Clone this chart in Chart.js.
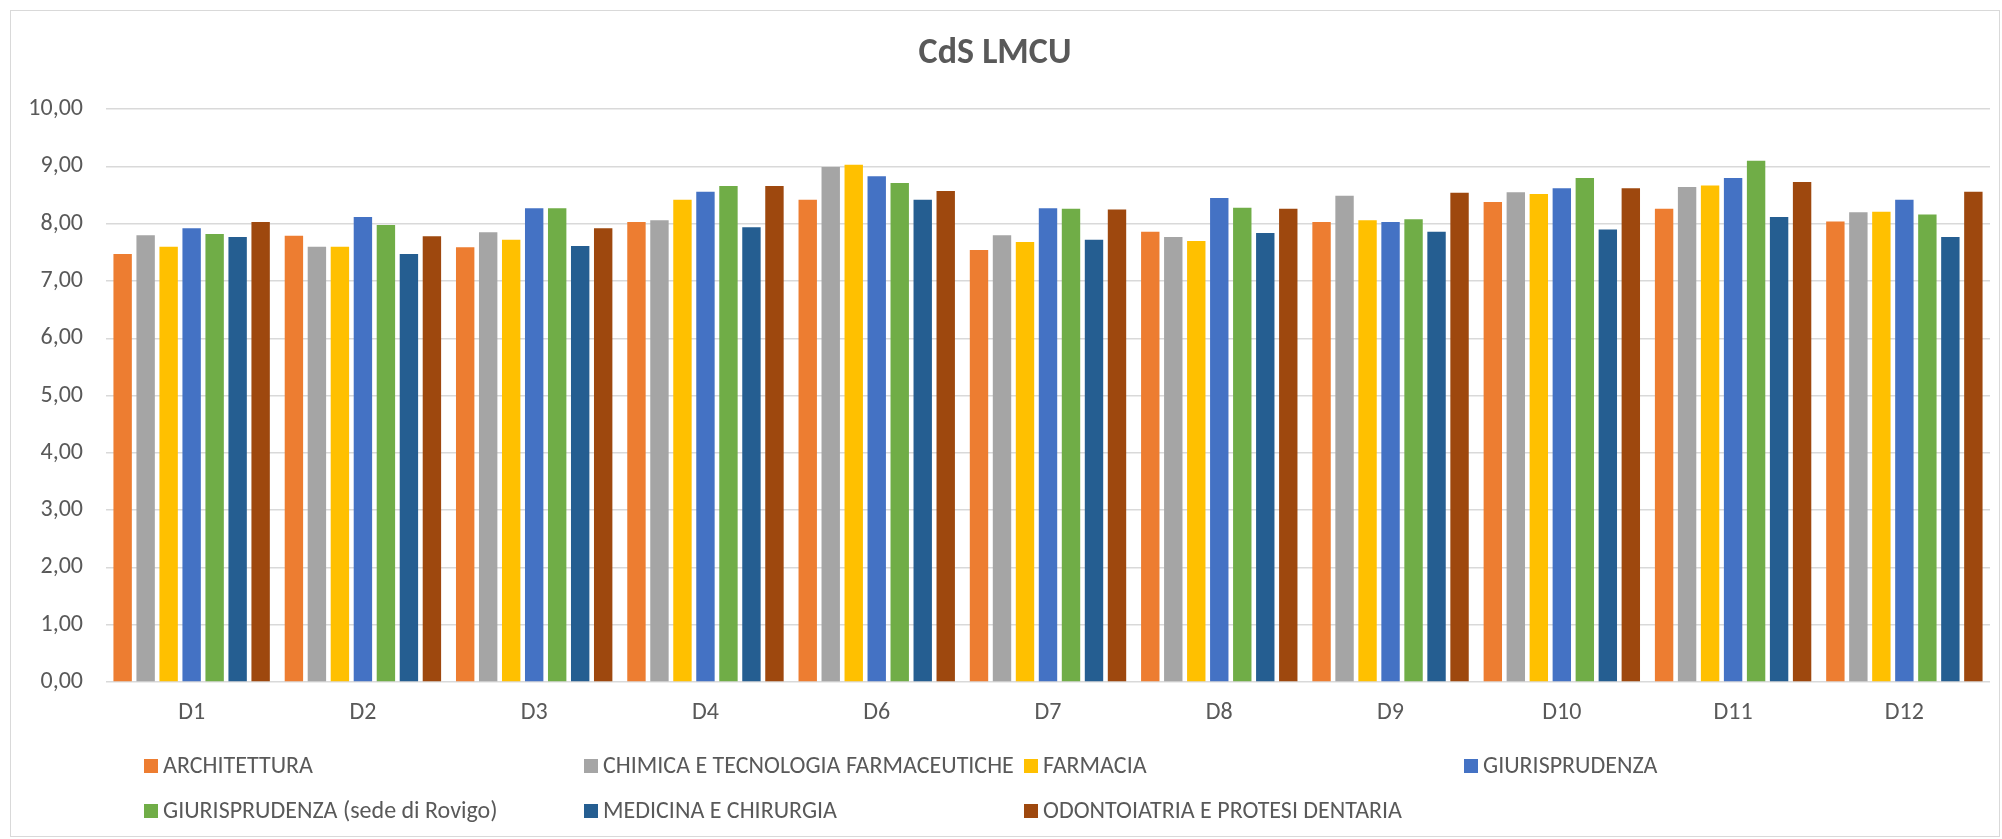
<!DOCTYPE html>
<html>
<head>
<meta charset="utf-8">
<script src="https://cdn.jsdelivr.net/npm/chart.js@4.4.1/dist/chart.umd.min.js"></script>
<style>
  html, body { margin: 0; padding: 0; background: #fff; }
  #frame {
    position: absolute; left: 10px; top: 10px;
    width: 1988px; height: 825px;
    border: 1.5px solid #D9D9D9;
  }
  #wrap { position: absolute; left: 0; top: 0; width: 2002px; height: 839px; }
</style>
</head>
<body>
<div id="frame"></div>
<div id="wrap"><canvas id="chart" width="2002" height="839"></canvas></div>
<script>
// ---- Data ----
const categories = ["D1", "D2", "D3", "D4", "D6", "D7", "D8", "D9", "D10", "D11", "D12"];

const architettura = [7.47, 7.79, 7.59, 8.03, 8.42, 7.54, 7.86, 8.03, 8.38, 8.26, 8.04];
const chimica      = [7.80, 7.60, 7.85, 8.06, 8.99, 7.80, 7.77, 8.49, 8.55, 8.64, 8.20];
const farmacia     = [7.60, 7.60, 7.72, 8.42, 9.03, 7.68, 7.70, 8.06, 8.52, 8.67, 8.21];
const giurisprud   = [7.92, 8.12, 8.27, 8.56, 8.83, 8.27, 8.45, 8.03, 8.62, 8.80, 8.42];
const giurRovigo   = [7.82, 7.98, 8.27, 8.66, 8.71, 8.26, 8.28, 8.08, 8.80, 9.10, 8.16];
const medicina     = [7.77, 7.47, 7.61, 7.94, 8.42, 7.72, 7.84, 7.86, 7.90, 8.12, 7.77];
const odontoiatria = [8.03, 7.78, 7.92, 8.66, 8.57, 8.25, 8.26, 8.54, 8.62, 8.73, 8.56];

const seriesNames = [
  "ARCHITETTURA",
  "CHIMICA E TECNOLOGIA FARMACEUTICHE",
  "FARMACIA",
  "GIURISPRUDENZA",
  "GIURISPRUDENZA (sede di Rovigo)",
  "MEDICINA E CHIRURGIA",
  "ODONTOIATRIA E PROTESI DENTARIA"
];
const seriesValues = [architettura, chimica, farmacia, giurisprud, giurRovigo, medicina, odontoiatria];
const seriesColors = ["#ED7D31", "#A5A5A5", "#FFC000", "#4472C4", "#70AD47", "#255E91", "#9E480E"];

const yTicks = [0, 1, 2, 3, 4, 5, 6, 7, 8, 9, 10];

const FONT = "'Liberation Sans Narrow', 'Carlito', 'Open Sans', sans-serif";
const TEXT = "#595959";

// ---- Legend drawn as a grid (4 columns, like Excel) ----
const gridLegend = {
  id: "gridLegend",
  afterDraw(chart) {
    const ctx = chart.ctx;
    ctx.save();
    ctx.font = "24px " + FONT;
    ctx.textBaseline = "middle";
    chart.data.datasets.forEach((ds, i) => {
      const col = i % 4;
      const row = Math.floor(i / 4);
      const x = 144 + col * 440;
      const y = 766 + row * 45;
      ctx.fillStyle = ds.backgroundColor;
      ctx.fillRect(x, y - 7, 14, 14);
      ctx.fillStyle = TEXT;
      ctx.fillText(ds.label, x + 19, y + 1);
    });
    ctx.restore();
  }
};

Chart.defaults.font.family = FONT;
Chart.defaults.color = TEXT;

const ctx = document.getElementById("chart").getContext("2d");
new Chart(ctx, {
  type: "bar",
  data: {
    labels: categories,
    datasets: seriesNames.map((name, i) => ({
      label: name,
      data: seriesValues[i],
      backgroundColor: seriesColors[i],
      borderWidth: 0,
      categoryPercentage: 0.94,
      barPercentage: 0.8
    }))
  },
  options: {
    responsive: false,
    animation: false,
    layout: { padding: { top: 0, left: 0, right: 12, bottom: 0 } },
    plugins: {
      legend: { display: false },
      tooltip: { enabled: false },
      title: {
        display: true,
        text: "CdS LMCU",
        color: TEXT,
        font: { size: 36, weight: "bold", family: FONT },
        padding: { top: 32, bottom: 34 }
      }
    },
    scales: {
      x: {
        grid: { display: false, drawTicks: false },
        border: { display: false },
        ticks: { font: { size: 24 }, padding: 17, color: TEXT },
        afterFit(scale) { scale.height = 157; }
      },
      y: {
        min: 0,
        max: 10,
        afterBuildTicks(scale) { scale.ticks = yTicks.map(v => ({ value: v })); },
        ticks: {
          font: { size: 24 },
          padding: 23,
          color: TEXT,
          callback: v => v.toFixed(2).replace(".", ",")
        },
        grid: { color: "#D9D9D9", lineWidth: 1.5, drawTicks: false },
        border: { display: false },
        afterFit(scale) { scale.width = 106; }
      }
    }
  },
  plugins: [gridLegend]
});
</script>
</body>
</html>
